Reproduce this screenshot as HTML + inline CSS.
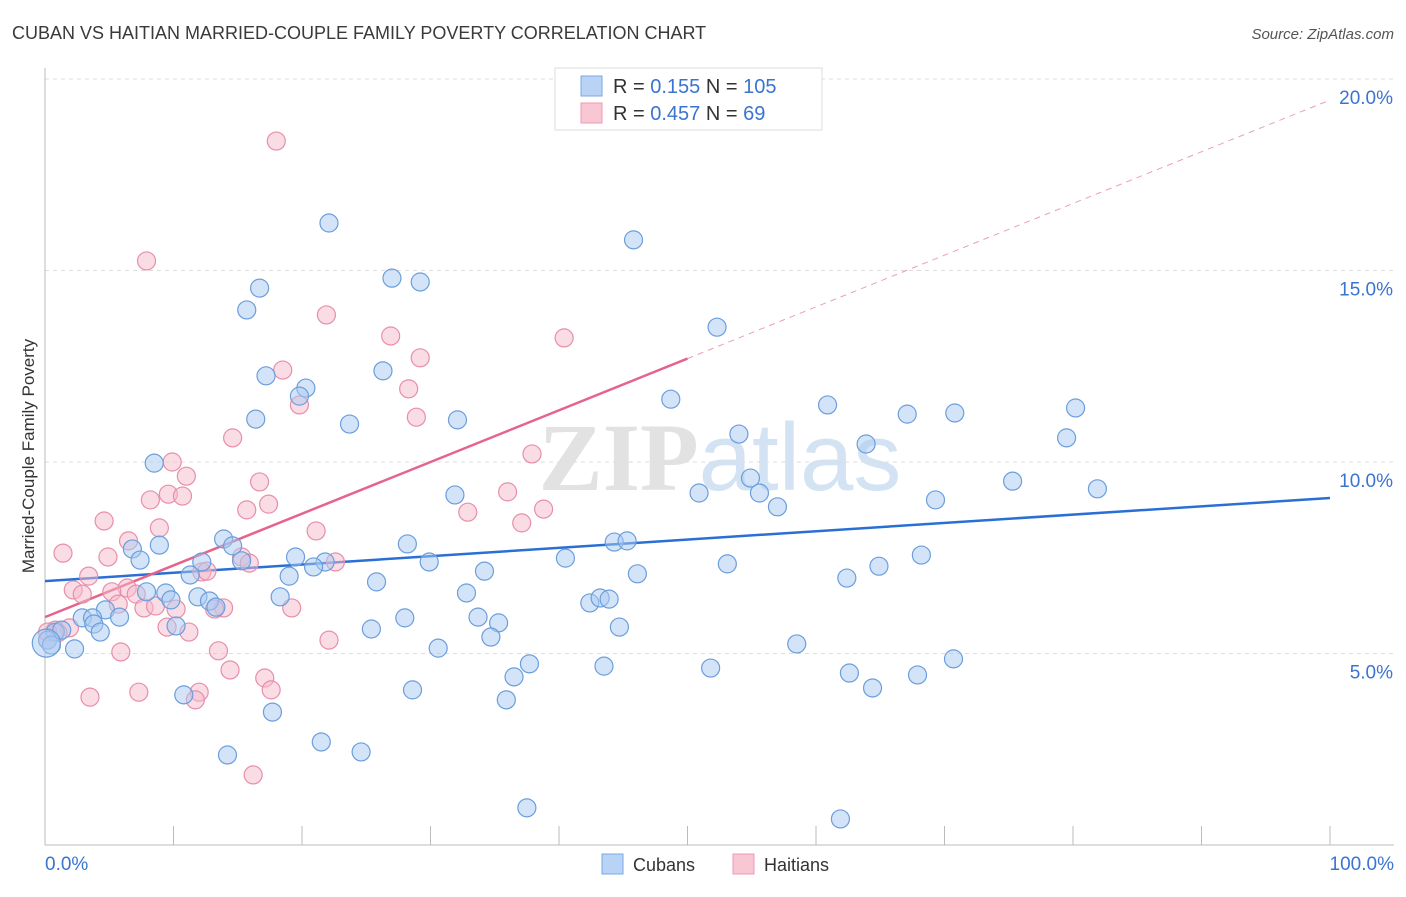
<!DOCTYPE html>
<html><head><meta charset="utf-8"><style>
body{margin:0;background:#fff;font-family:"Liberation Sans",sans-serif;}
svg text{font-family:"Liberation Sans",sans-serif;}
</style></head><body>
<svg id="chart" width="1406" height="892" xmlns="http://www.w3.org/2000/svg">
<text x="12" y="39" font-size="18" fill="#3a3a3a">CUBAN VS HAITIAN MARRIED-COUPLE FAMILY POVERTY CORRELATION CHART</text>
<text x="1394" y="39" font-size="15" font-style="italic" fill="#555" text-anchor="end">Source: ZipAtlas.com</text>
<text transform="translate(34,456) rotate(-90)" font-size="17" fill="#333" text-anchor="middle">Married-Couple Family Poverty</text>
<g font-size="96" text-anchor="middle"><text x="720" y="490"><tspan fill="#e2e2e2" font-family="Liberation Serif" font-weight="bold">ZIP</tspan><tspan fill="#d3e3f4">atlas</tspan></text></g>
<g id="grid"></g><g id="axes"></g><g id="trend"></g><g id="pts"></g>
<g>
<rect x="555" y="68" width="267" height="62" fill="#fff" stroke="#ddd"/>
<rect x="581" y="76" width="21" height="20" fill="#b8d3f5" stroke="#7aa8e3"/>
<rect x="581" y="103" width="21" height="20" fill="#f9c6d4" stroke="#ec9ab3"/>
<text x="613" y="93" font-size="20" fill="#333">R = <tspan fill="#3a74d0"> 0.155</tspan>   N = <tspan fill="#3a74d0">105</tspan></text>
<text x="613" y="120" font-size="20" fill="#333">R = <tspan fill="#3a74d0">0.457</tspan>   N = <tspan fill="#3a74d0">  69</tspan></text>
</g>
<g font-size="18" fill="#333">
<rect x="602" y="854" width="21" height="20" fill="#b8d3f5" stroke="#7aa8e3"/><text x="633" y="871">Cubans</text>
<rect x="733" y="854" width="21" height="20" fill="#f9c6d4" stroke="#ec9ab3"/><text x="764" y="871">Haitians</text>
</g>
</svg>
<script>
const yTicks=[5,10,15,20];
const xTickVals=[0,10,20,30,40,50,60,70,80,90,100];
const cubanX=[22.1,45.8,16.7,27.0,29.2,15.7,52.3,26.3,17.2,20.3,19.8,48.7,60.9,67.1,70.8,80.2,16.4,23.7,32.1,54.0,63.9,79.5,8.5,54.9,31.9,50.9,55.6,69.3,75.3,81.9,57.0,13.9,14.6,8.9,6.8,7.4,28.2,44.3,45.3,19.5,21.8,20.9,29.9,40.5,68.2,12.2,15.3,11.3,19.0,34.2,46.1,53.1,62.4,64.9,25.8,7.9,9.4,11.9,12.8,18.3,32.8,42.4,43.2,43.9,9.8,13.3,4.7,5.8,2.9,3.7,3.8,0.8,1.3,10.2,33.7,28.0,35.3,25.4,44.7,34.7,4.3,0.2,0.5,2.3,30.6,58.5,37.7,36.5,43.5,51.8,62.6,70.7,67.9,64.4,10.8,28.6,17.7,35.9,21.5,24.6,14.2,37.5,61.9,0.1];
const cubanY=[16.24,15.80,14.54,14.80,14.70,13.97,13.52,12.38,12.25,11.93,11.72,11.64,11.49,11.25,11.28,11.41,11.12,10.99,11.10,10.73,10.47,10.63,9.97,9.58,9.14,9.19,9.19,9.01,9.50,9.30,8.83,7.99,7.81,7.83,7.73,7.44,7.86,7.91,7.94,7.52,7.39,7.26,7.39,7.49,7.57,7.39,7.42,7.05,7.02,7.15,7.08,7.34,6.97,7.28,6.87,6.61,6.58,6.48,6.37,6.48,6.58,6.32,6.45,6.42,6.40,6.21,6.14,5.95,5.93,5.93,5.77,5.56,5.61,5.72,5.95,5.93,5.80,5.64,5.69,5.43,5.56,5.35,5.22,5.12,5.14,5.25,4.73,4.39,4.67,4.62,4.49,4.86,4.44,4.10,3.92,4.05,3.47,3.79,2.69,2.43,2.35,0.97,0.68,5.27];
const haitianX=[18.0,7.9,21.9,40.4,26.9,29.2,18.5,28.3,19.8,28.9,14.6,37.9,9.9,11.0,16.7,8.2,9.6,10.7,36.0,17.4,15.7,32.9,38.8,37.1,4.6,8.9,21.1,1.4,6.5,4.9,15.3,15.9,22.6,12.2,3.4,12.6,2.2,2.9,6.4,5.2,7.1,5.7,7.7,8.6,10.2,13.9,19.2,13.2,0.8,1.9,1.0,9.5,11.2,22.1,0.2,5.9,13.5,14.4,17.1,7.3,12.0,3.5,11.7,17.6,16.2,0.2];
const haitianY=[18.38,15.25,13.84,13.24,13.29,12.72,12.40,11.91,11.49,11.17,10.63,10.21,10.00,9.63,9.48,9.01,9.16,9.11,9.22,8.90,8.75,8.69,8.77,8.41,8.46,8.28,8.20,7.62,7.94,7.52,7.52,7.36,7.39,7.13,7.02,7.15,6.66,6.55,6.71,6.61,6.55,6.29,6.19,6.24,6.16,6.19,6.19,6.16,5.61,5.67,5.54,5.69,5.56,5.35,5.35,5.04,5.07,4.57,4.36,3.99,3.99,3.86,3.79,4.05,1.83,5.56];
const cubanTrend=[6.89,9.06];
const haitianTrend=[5.95,19.45];
const NS='http://www.w3.org/2000/svg';
const X=v=>45+v*12.85, Y=v=>845-v*38.3;
function mk(t,a,p){const e=document.createElementNS(NS,t);for(const k in a)e.setAttribute(k,a[k]);p.appendChild(e);return e;}
const grid=document.getElementById('grid'),axes=document.getElementById('axes'),trend=document.getElementById('trend'),pts=document.getElementById('pts');
yTicks.forEach(t=>{
 const l=mk('line',{x1:45,x2:1394,y1:Y(t),y2:Y(t),stroke:'#ddd','stroke-dasharray':'4,4'},grid);
 
 
 const tx=mk('text',{x:1393,y:Y(t)+25,'font-size':19,fill:'#3a74d0','text-anchor':'end'},grid);
 tx.textContent=t.toFixed(1)+'%';
 
 
});
const xa=mk('line',{x1:45,x2:1394,y1:845,y2:845,stroke:'#bbb'},axes);


const ya=mk('line',{x1:45,x2:45,y1:68,y2:845,stroke:'#bbb'},axes);


xTickVals.forEach(t=>{
 const l=mk('line',{x1:X(t),x2:X(t),y1:826,y2:845,stroke:'#bbb'},axes);
 
 
});
[[0,'0.0%','start',45],[100,'100.0%','end',1394]].forEach(([v,s,a,x])=>{
 const tx=mk('text',{x:x,y:870,'font-size':19,fill:'#3a74d0','text-anchor':a},axes);
 tx.textContent=s;
 
 
});
function draw(xs,ys,fill,stroke,name){
 xs.forEach((x,i)=>{
  const r=(i===xs.length-1&&name==='cuban')?14:9;
  const c=mk('circle',{cx:X(x),cy:Y(ys[i]),r:r,fill:fill,'fill-opacity':0.5,stroke:stroke,'stroke-width':1.2},pts);
  
  
 });
}
draw(haitianX,haitianY,'#f6b9cb','#e88eab','haitian');
draw(cubanX,cubanY,'#a9c9f1','#6b9edc','cuban');
const ct=mk('line',{x1:X(0),y1:Y(cubanTrend[0]),x2:X(100),y2:Y(cubanTrend[1]),stroke:'#2a6fd4','stroke-width':2.5},trend);


const hm=haitianTrend[0]+(haitianTrend[1]-haitianTrend[0])*0.5;
const ht=mk('line',{x1:X(0),y1:Y(haitianTrend[0]),x2:X(50),y2:Y(hm),stroke:'#e5648e','stroke-width':2.5},trend);


const hd=mk('line',{x1:X(50),y1:Y(hm),x2:X(100),y2:Y(haitianTrend[1]),stroke:'#e8a0b8','stroke-width':1,'stroke-dasharray':'6,5'},trend);


</script>
</body></html>
